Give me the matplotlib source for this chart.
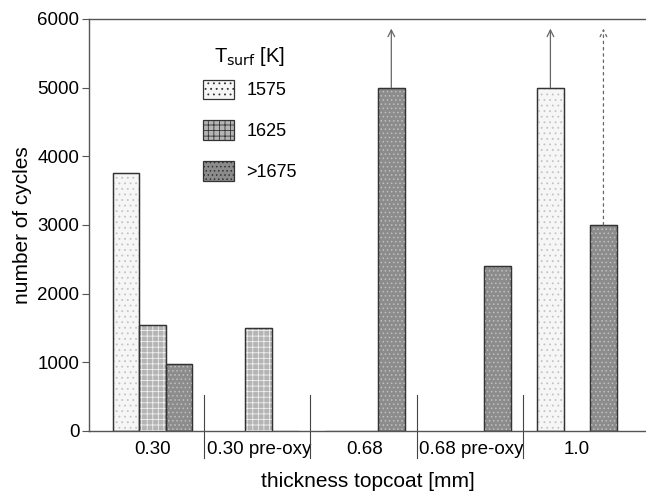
import matplotlib
matplotlib.use("Agg")
import matplotlib.pyplot as plt
from matplotlib.patches import Patch

plt.rcParams['font.family'] = ['Liberation Sans', 'DejaVu Sans']
plt.rcParams['hatch.linewidth'] = 0.6

# groups on the x axis
groups = ["0.30", "0.30 pre-oxy", "0.68", "0.68 pre-oxy", "1.0"]
temps = ["1575", "1625", ">1675"]

# number of cycles per group, None = not tested
cyc_1575 = [3750, None, 0, None, 5000]
cyc_1625 = [1550, 1500, 0, None, None]
cyc_1675 = [970, 0, 5000, 2400, 3000]

# bars that did not fail (run-out) -> arrow up to this level
runout_top = 5860
runout_1575 = [False, False, False, False, True]
runout_1675 = [False, False, True, False, True]

faces = ["#f6f6f6", "#b4b4b4", "#8c8c8c"]
hatches = ["...", "+++", "...."]
hcols = ["#c4c4c4", "#f0f0f0", "#c0c0c0"]

fig = plt.figure(figsize=(6.46, 4.93), dpi=100)
ax = fig.add_axes([0.1378, 0.1258, 0.862, 0.8357])

series = [cyc_1575, cyc_1625, cyc_1675]
for s, vals in enumerate(series):
    for g, v in enumerate(vals):
        if v is None:
            continue
        x = 4 * g + s
        ax.bar(x, v, width=1, align="edge", color=faces[s],
               edgecolor="#333333", linewidth=0.9, zorder=2)
        if v > 0:
            ax.bar(x, v, width=1, align="edge", fill=False, hatch=hatches[s],
                   edgecolor=hcols[s], linewidth=0, zorder=3)
            ax.bar(x, v, width=1, align="edge", fill=False,
                   edgecolor="#333333", linewidth=0.9, zorder=3)

# run-out arrows
for g in range(len(groups)):
    for s, flags, vals in [(0, runout_1575, cyc_1575),
                           (2, runout_1675, cyc_1675)]:
        if flags[g]:
            style = (0, (2, 3)) if g == 4 and s == 2 else "-"
            ax.annotate("", xy=(4 * g + s + 0.5, runout_top),
                        xytext=(4 * g + s + 0.5, vals[g]),
                        arrowprops=dict(arrowstyle="->", color="#666666",
                                        lw=0.9, linestyle=style,
                                        shrinkA=0, shrinkB=0,
                                        mutation_scale=12),
                        zorder=4)

# group separators
for g in range(1, len(groups)):
    ax.axvline(4 * g - 0.55, ymin=-0.066, ymax=0.087, color="#444444",
               lw=0.8, clip_on=False)

ax.set_xlim(-0.9, 20.1)
ax.set_ylim(0, 6000)
ax.set_yticks(range(0, 6001, 1000))
ax.set_xticks([4 * g + 1.5 for g in range(len(groups))])
ax.set_xticklabels(groups)
ax.tick_params(axis="x", length=0, pad=7, labelsize=13.5)
ax.tick_params(axis="y", length=5, width=0.8, direction="out", labelsize=13.5,
               color="#555555", pad=2)

for side in ["left", "top", "bottom"]:
    ax.spines[side].set_color("#555555")
    ax.spines[side].set_linewidth(1.0)
ax.spines["right"].set_visible(False)

ax.set_ylabel("number of cycles", fontsize=15, labelpad=4)
ax.set_xlabel("thickness topcoat [mm]", fontsize=15, labelpad=10)

# legend
ax.text(0.289, 0.91, r"T$_{\mathrm{surf}}$ [K]", transform=ax.transAxes,
        ha="center", va="center", fontsize=14.5)
handles = [Patch(facecolor=faces[i], edgecolor="#333333", hatch=hatches[i],
                 linewidth=0.9) for i in range(3)]
leg = ax.legend(handles, temps, loc="upper left",
                bbox_to_anchor=(0.2047, 0.853), frameon=False,
                borderpad=0, borderaxespad=0,
                fontsize=13, handlelength=1.7, handleheight=1.3,
                labelspacing=1.15, handletextpad=0.7)

fig.savefig("out.png", dpi=100)
